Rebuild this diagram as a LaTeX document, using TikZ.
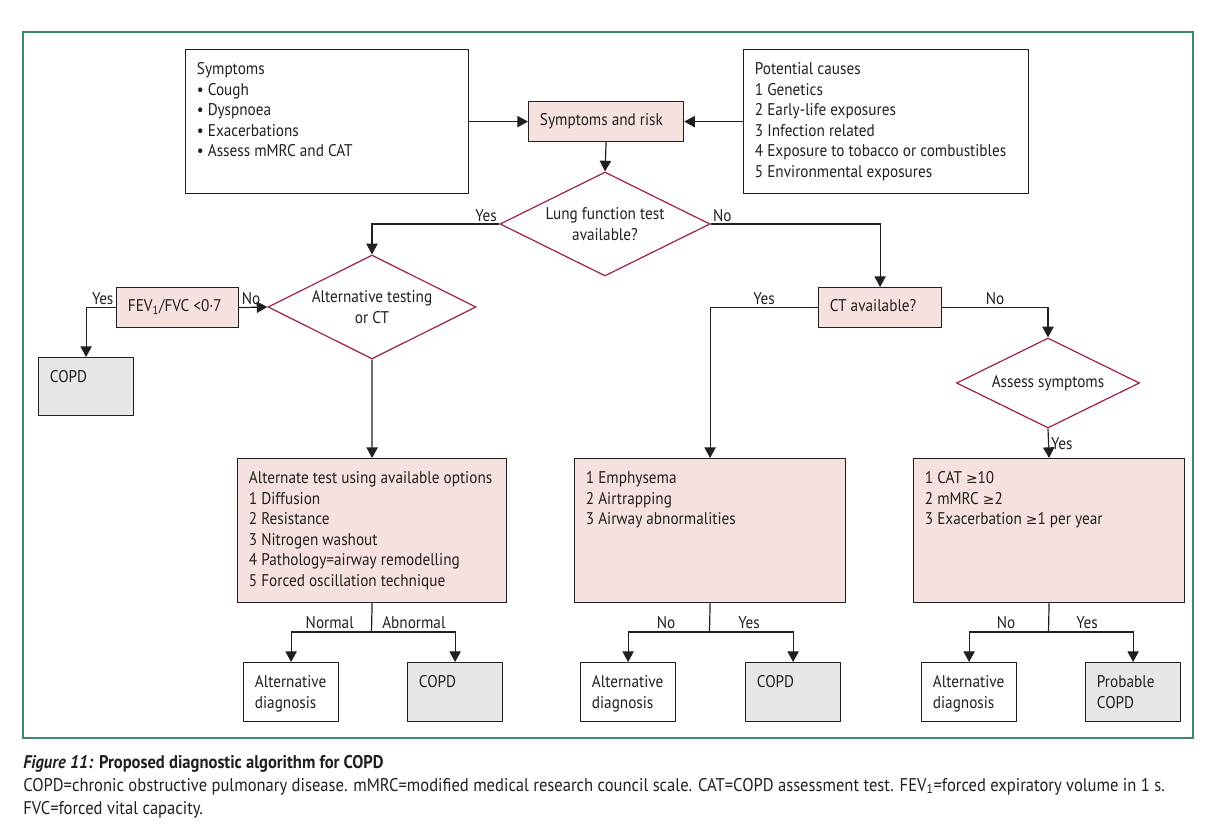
\documentclass[tikz,border=0pt]{standalone}
\usepackage{fontspec}
\setmainfont{PT Sans}[FakeStretch=0.9]
\newfontfamily\symfont{DejaVu Sans}[Scale=0.82]
\usetikzlibrary{shapes.geometric,arrows.meta}
\definecolor{lc}{HTML}{231F20}
\definecolor{pinkf}{HTML}{F5E2DF}
\definecolor{greyf}{HTML}{E6E7E8}
\definecolor{crim}{HTML}{9E1F4E}
\definecolor{frameg}{HTML}{3C8A68}
\newcommand\bxT[7]{\node[#1,anchor=north west,inner xsep=8.5pt,inner ysep=8pt] (#2) at (#3,#4) {\begin{minipage}[t][\dimexpr(#6pt-#4pt)*3/4-16pt\relax][t]{\dimexpr(#5pt-#3pt)*3/4-17pt\relax}\raggedright\strut #7\end{minipage}};}
\newcommand\bxC[7]{\node[#1,anchor=north west,inner xsep=8.5pt,inner ysep=0pt] (#2) at (#3,#4) {\begin{minipage}[t][\dimexpr(#6pt-#4pt)*3/4\relax][c]{\dimexpr(#5pt-#3pt)*3/4-17pt\relax}\raggedright\strut #7\end{minipage}};}
\begin{document}
\begin{tikzpicture}[x=0.75pt,y=-0.75pt,
  every node/.style={font=\fontsize{12.7}{15.4}\selectfont, text=lc},
  bline/.style={draw=lc,line width=0.9pt},
  arr/.style={bline,-{Triangle[length=8pt,width=8.5pt]}},
  wbox/.style={draw=lc,line width=0.9pt,fill=white},
  pbox/.style={wbox,fill=pinkf},
  gbox/.style={wbox,fill=greyf},
  dia/.style={diamond,draw=crim,line width=0.9pt,fill=white,shape aspect=2,inner sep=0pt,align=center},
  lab/.style={inner sep=1.5pt}]
\useasboundingbox (0,0) rectangle (1214,824);
\draw[frameg,line width=0.9pt] (23,32) rectangle (1193,738);

\bxT{wbox}{sym}{185}{49}{468}{193}{Symptoms\\• Cough\\• Dyspnoea\\• Exacerbations\\• Assess mMRC and CAT}
\bxC{pbox}{sr}{528}{101}{683}{141}{Symptoms and risk}
\bxT{wbox}{cause}{743}{49}{1028}{193}{Potential causes\\1 Genetics\\2 Early-life exposures\\3 Infection related\\4 Exposure to tobacco or combustibles\\5 Environmental exposures}
\node[dia,minimum width=157.5pt,minimum height=78pt] (lung) at (605,224) {Lung function test\\available?};
\bxC{pbox}{fev}{116}{287}{238}{327}{FEV\textsubscript{1}/FVC <0·7}
\node[dia,minimum width=156pt,minimum height=78pt] (alt) at (372,307) {Alternative testing\\or CT};
\bxT{gbox}{copda}{38}{357}{133}{415}{COPD}
\bxC{pbox}{ct}{818}{287}{941}{327}{CT available?}
\node[dia,minimum width=137.25pt,minimum height=67.5pt] (assess) at (1048,383) {Assess symptoms};
\bxT{pbox}{atest}{237}{458}{506}{602}{Alternate test using available options\\1 Diffusion\\2 Resistance\\3 Nitrogen washout\\4 Pathology=airway remodelling\\5 Forced oscillation technique}
\bxT{pbox}{emph}{574}{458}{845}{602}{1 Emphysema\\2 Airtrapping\\3 Airway abnormalities}
\bxT{pbox}{cat}{913}{458}{1184}{602}{1 CAT {\symfont ≥}10\\2 mMRC {\symfont ≥}2\\3 Exacerbation {\symfont ≥}1 per year}
\bxT{wbox}{ada}{243}{662}{338}{721}{Alternative\\diagnosis}
\bxT{gbox}{copdb}{407}{662}{502}{721}{COPD}
\bxT{wbox}{adb}{580}{662}{675}{721}{Alternative\\diagnosis}
\bxT{gbox}{copdc}{745}{662}{840}{721}{COPD}
\bxT{wbox}{adc}{921}{662}{1016}{721}{Alternative\\diagnosis}
\bxT{gbox}{pcopd}{1085}{662}{1180}{721}{Probable\\COPD}

\draw[arr] (sym.east) -- (sr.west);
\draw[arr] (cause.west) -- (sr.east);
\draw[arr] (sr.south) -- (lung.north);
\draw[arr] (lung.west) node[lab,above left] {Yes} -| (alt.north);
\draw[arr] (lung.east) node[lab,above right] {No} -| (ct.north);
\draw[arr] (fev.east) node[lab,above right] {No} -- (alt.west);
\draw[arr] (fev.west) node[lab,above left] {Yes} -| (copda.north);
\draw[arr] (alt.south) -- (atest.north);
\draw[arr] (ct.west) -| node[lab,pos=0.25,above] {Yes} (emph.north);
\draw[arr] (ct.east) -| node[lab,pos=0.25,above] {No} (assess.north);
\draw[arr] (assess.south) -- node[lab,right] {Yes} (cat.north);

\coordinate (ba) at (371.5,632);
\draw[bline] (atest.south) -- (ba);
\draw[arr] (ba) -| (ada.north);
\draw[arr] (ba) -| (copdb.north);
\node[lab,anchor=base east] (nrm) at (356,628) {Normal};
\node[lab,anchor=base west] (abn) at (380,628) {Abnormal};

\coordinate (bb) at (709.5,632);
\draw[bline] (emph.south) -- (bb);
\draw[arr] (bb) -| (adb.north);
\draw[arr] (bb) -| (copdc.north);
\node[lab,anchor=base] (nob) at (666,628) {No};
\node[lab,anchor=base] (yesb) at (749,628) {Yes};

\coordinate (bc) at (1048.5,632);
\draw[bline] (cat.south) -- (bc);
\draw[arr] (bc) -| (adc.north);
\draw[arr] (bc) -| (pcopd.north);
\node[lab,anchor=base] (noc) at (1006,628) {No};
\node[lab,anchor=base] (yesc) at (1087,628) {Yes};

\node[anchor=base west,inner sep=0pt,font=\fontsize{13.8}{17}\selectfont\bfseries] (cap) at (23,768) {\textit{Figure 11:} Proposed diagnostic algorithm for COPD};
\node[anchor=base west,inner sep=0pt,font=\fontsize{13.8}{17}\selectfont] (capa) at (23,791) {COPD=chronic obstructive pulmonary disease. mMRC=modified medical research council scale. CAT=COPD assessment test. FEV\textsubscript{1}=forced expiratory volume in 1 s.};
\node[anchor=base west,inner sep=0pt,font=\fontsize{13.8}{17}\selectfont] (capb) at (23,814) {FVC=forced vital capacity.};
\end{tikzpicture}
\end{document}
